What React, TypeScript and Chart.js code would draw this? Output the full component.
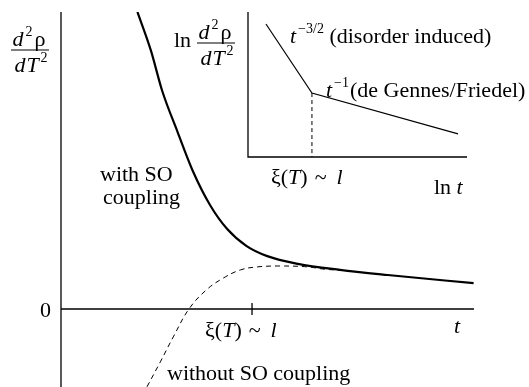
import React, { useEffect, useRef } from "react";
import { Chart, registerables } from "chart.js";

Chart.register(...registerables);

// Main panel: d²ρ/dT² versus t (ξ(T) ~ l at t = 1)
const tWithSO = [0.4, 0.47, 0.53, 0.61, 0.69, 0.78, 0.87, 0.97, 1.08, 1.24, 1.46, 1.71, 2.16];
const rhoWithSO = [6.91, 6.02, 5.07, 4.12, 3.21, 2.42, 1.86, 1.47, 1.23, 1.05, 0.91, 0.79, 0.6];
const tWithoutSO = [0.45, 0.52, 0.59, 0.67, 0.76, 0.85, 0.94, 1.03, 1.15, 1.29, 1.37, 1.46];
const rhoWithoutSO = [-1.81, -1.23, -0.63, 0, 0.44, 0.72, 0.91, 0.98, 1.0, 0.98, 0.93, 0.9];
const xiTick = 1;
const mainXRange = [0, 2.162];
const mainYRange = [-1.814, 6.907];

// Inset: ln d²ρ/dT² versus ln t
const lnT = [0.82, 2.92, 9.59];
const lnRho = [9.17, 4.41, 1.59];
const insetRange = [0, 10];

const FONT = '"Liberation Serif", "Times New Roman", serif';

type Seg = { t: string; it?: boolean; sz?: number; dy?: number; dx?: number };

function drawRich(ctx: CanvasRenderingContext2D, x: number, y: number, segs: Seg[], base = 22) {
  let cx = x;
  ctx.textAlign = "left";
  ctx.textBaseline = "alphabetic";
  for (const s of segs) {
    const size = s.sz ?? base;
    ctx.font = `${s.it ? "italic " : ""}${size}px ${FONT}`;
    cx += s.dx || 0;
    ctx.fillText(s.t, cx, y + (s.dy || 0));
    cx += ctx.measureText(s.t).width;
  }
}

function richWidth(ctx: CanvasRenderingContext2D, segs: Seg[], base = 22) {
  let w = 0;
  for (const s of segs) {
    const size = s.sz ?? base;
    ctx.font = `${s.it ? "italic " : ""}${size}px ${FONT}`;
    w += (s.dx || 0) + ctx.measureText(s.t).width;
  }
  return w;
}

const numSegs: Seg[] = [
  { t: "d", it: true },
  { t: "2", sz: 14, dy: -10, dx: 2 },
  { t: "ρ", dx: 2 },
];
const denSegs: Seg[] = [
  { t: "d", it: true },
  { t: "T", it: true, dx: 1 },
  { t: "2", sz: 14, dy: -10, dx: 2 },
];

function drawFrac(ctx: CanvasRenderingContext2D, left: number, barY: number, barW: number) {
  const nw = richWidth(ctx, numSegs);
  const dw = richWidth(ctx, denSegs);
  drawRich(ctx, left + (barW - nw) / 2 - 1, barY - 4, numSegs);
  drawRich(ctx, left + (barW - dw) / 2 + 1, barY + 22, denSegs);
  ctx.beginPath();
  ctx.lineWidth = 1.2;
  ctx.moveTo(left, barY);
  ctx.lineTo(left + barW, barY);
  ctx.stroke();
}

const xiLabel: Seg[] = [
  { t: "ξ" },
  { t: "(" },
  { t: "T", it: true },
  { t: ")" },
  { t: "~", dx: 7 },
  { t: "l", it: true, dx: 10 },
];

const mainPlugin = {
  id: "mainDecor",
  beforeDatasetsDraw(chart: any) {
    const { ctx, chartArea, scales } = chart;
    const x = scales.x;
    const y = scales.y;
    const x0 = x.getPixelForValue(0);
    const y0 = y.getPixelForValue(0);
    ctx.save();
    ctx.strokeStyle = "#000";
    ctx.lineWidth = 1.3;
    ctx.beginPath();
    ctx.moveTo(x0, chartArea.top);
    ctx.lineTo(x0, chartArea.bottom);
    ctx.moveTo(x0, y0);
    ctx.lineTo(chartArea.right, y0);
    const xt = x.getPixelForValue(xiTick);
    ctx.moveTo(xt, y0 - 6);
    ctx.lineTo(xt, y0 + 6);
    ctx.stroke();
    ctx.restore();
  },
  afterDatasetsDraw(chart: any) {
    const { ctx, scales } = chart;
    const x = scales.x;
    const y = scales.y;
    const y0 = y.getPixelForValue(0);
    const xt = x.getPixelForValue(xiTick);
    ctx.save();
    ctx.fillStyle = "#000";
    ctx.strokeStyle = "#000";
    // y-axis title
    drawFrac(ctx, 11, 50, 38);
    // zero label
    drawRich(ctx, x.getPixelForValue(0) - 21, y0 + 8, [{ t: "0" }]);
    // tick label
    drawRich(ctx, xt - 47, y0 + 28, xiLabel);
    // axis label t
    drawRich(ctx, chart.chartArea.right - 20, y0 + 24, [{ t: "t", it: true }]);
    // curve labels
    drawRich(ctx, 100, 181, [{ t: "with SO" }]);
    drawRich(ctx, 103, 204, [{ t: "coupling" }]);
    drawRich(ctx, 167, 380, [{ t: "without SO coupling" }]);
    ctx.restore();
  },
};

const insetPlugin = {
  id: "insetDecor",
  beforeDatasetsDraw(chart: any) {
    const { ctx, chartArea, scales } = chart;
    const x0 = scales.x.getPixelForValue(0);
    const y0 = scales.y.getPixelForValue(0);
    ctx.save();
    ctx.strokeStyle = "#000";
    ctx.lineWidth = 1.3;
    ctx.beginPath();
    ctx.moveTo(x0, chartArea.top);
    ctx.lineTo(x0, y0);
    ctx.lineTo(chartArea.right, y0);
    ctx.stroke();
    ctx.restore();
  },
  afterDatasetsDraw(chart: any) {
    const { ctx, scales } = chart;
    const xk = scales.x.getPixelForValue(lnT[1]);
    const y0 = scales.y.getPixelForValue(0);
    ctx.save();
    ctx.fillStyle = "#000";
    ctx.strokeStyle = "#000";
    drawRich(ctx, 174, 47, [{ t: "ln" }]);
    drawFrac(ctx, 197, 43, 38);
    drawRich(ctx, 290, 43, [
      { t: "t", it: true },
      { t: "−3/2", sz: 14, dy: -10, dx: 2 },
      { t: " (disorder induced)" },
    ]);
    drawRich(ctx, 326, 97, [
      { t: "t", it: true },
      { t: "−1", sz: 14, dy: -10, dx: 2 },
      { t: "(de Gennes/Friedel)", dx: 1 },
    ]);
    drawRich(ctx, xk - 41, y0 + 27, xiLabel);
    drawRich(ctx, 434, y0 + 37, [{ t: "ln " }, { t: "t", it: true }]);
    ctx.restore();
  },
};

export default function App() {
  const mainRef = useRef<HTMLCanvasElement>(null);
  const insetRef = useRef<HTMLCanvasElement>(null);

  useEffect(() => {
    const main = new Chart(mainRef.current!, {
      type: "line",
      data: {
        datasets: [
          {
            data: tWithSO.map((t, i) => ({ x: t, y: rhoWithSO[i] })),
            borderColor: "#000",
            borderWidth: 2.2,
            cubicInterpolationMode: "monotone",
            pointRadius: 0,
            fill: false,
          },
          {
            data: tWithoutSO.map((t, i) => ({ x: t, y: rhoWithoutSO[i] })),
            borderColor: "#000",
            borderWidth: 1,
            borderDash: [5, 4],
            tension: 0.4,
            pointRadius: 0,
            fill: false,
          },
        ],
      },
      options: {
        animation: false,
        responsive: false,
        maintainAspectRatio: false,
        layout: { padding: { left: 61, right: 55, top: 12, bottom: 0 } },
        scales: {
          x: { type: "linear", display: false, min: mainXRange[0], max: mainXRange[1] },
          y: { type: "linear", display: false, min: mainYRange[0], max: mainYRange[1] },
        },
        plugins: { legend: { display: false }, tooltip: { enabled: false } },
      },
      plugins: [mainPlugin],
    } as any);

    const inset = new Chart(insetRef.current!, {
      type: "line",
      data: {
        datasets: [
          {
            data: lnT.map((t, i) => ({ x: t, y: lnRho[i] })),
            borderColor: "#000",
            borderWidth: 1.2,
            tension: 0,
            pointRadius: 0,
            fill: false,
          },
          {
            data: [
              { x: lnT[1], y: lnRho[1] },
              { x: lnT[1], y: insetRange[0] },
            ],
            borderColor: "#000",
            borderWidth: 1,
            borderDash: [4, 3],
            pointRadius: 0,
            fill: false,
          },
        ],
      },
      options: {
        animation: false,
        responsive: false,
        maintainAspectRatio: false,
        layout: { padding: { left: 248, right: 62, top: 12, bottom: 230 } },
        scales: {
          x: { type: "linear", display: false, min: insetRange[0], max: insetRange[1] },
          y: { type: "linear", display: false, min: insetRange[0], max: insetRange[1] },
        },
        plugins: { legend: { display: false }, tooltip: { enabled: false } },
      },
      plugins: [insetPlugin],
    } as any);

    return () => {
      main.destroy();
      inset.destroy();
    };
  }, []);

  return (
    <div style={{ position: "fixed", left: 0, top: 0, width: 529, height: 387, background: "#fff" }}>
      <canvas ref={mainRef} width={529} height={387} style={{ position: "absolute", left: 0, top: 0 }} />
      <canvas ref={insetRef} width={529} height={387} style={{ position: "absolute", left: 0, top: 0 }} />
    </div>
  );
}
